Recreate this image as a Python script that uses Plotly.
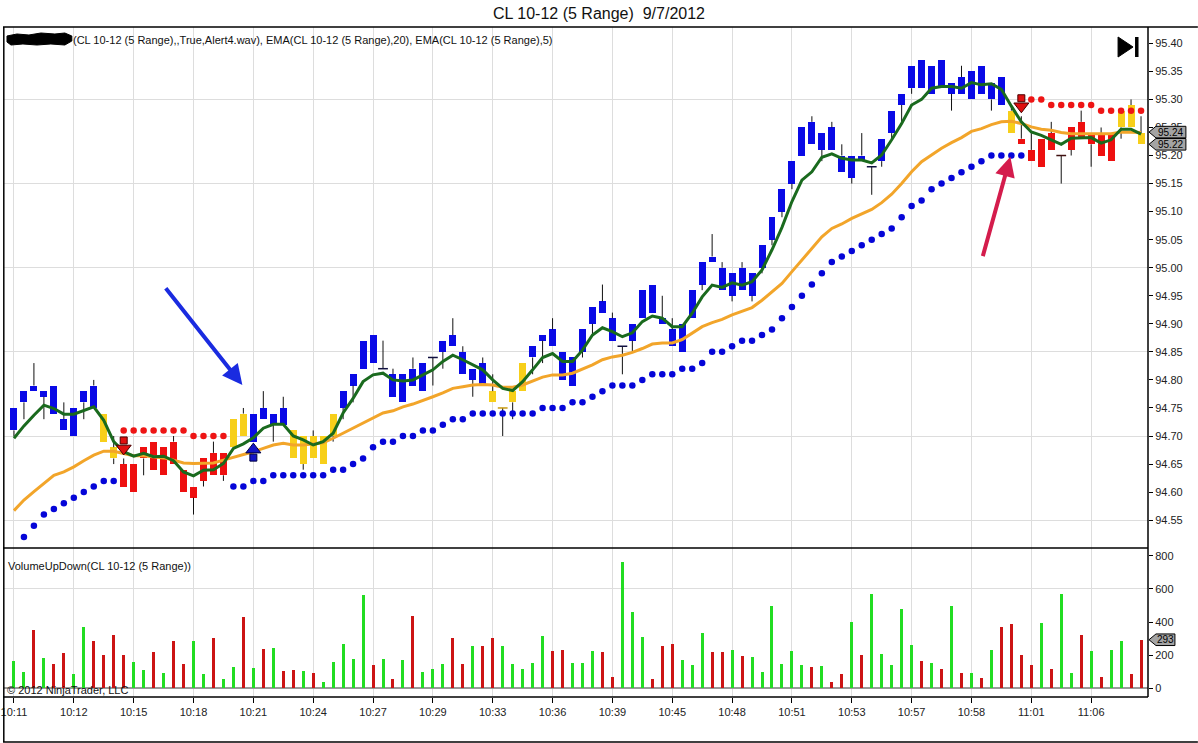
import plotly.graph_objects as go

# ---------------- data ----------------
bar_index = list(range(114))
time_labels = ["10:11", "10:12", "10:15", "10:18", "10:21", "10:24", "10:27", "10:29",
               "10:33", "10:36", "10:39", "10:45", "10:48", "10:51", "10:53", "10:57",
               "10:58", "11:01", "11:06"]
time_label_bars = [0, 6, 12, 18, 24, 30, 36, 42, 48, 54, 60, 66, 72, 78, 84, 90, 96, 102, 108]

price_ticks = [94.55, 94.60, 94.65, 94.70, 94.75, 94.80, 94.85, 94.90, 94.95, 95.00,
               95.05, 95.10, 95.15, 95.20, 95.25, 95.30, 95.35, 95.40]
price_grid = [94.55, 94.70, 94.85, 95.00, 95.15, 95.30]
volume_ticks = [0, 200, 400, 600, 800]
volume_grid = [600]

opens = [94.71, 94.76, 94.79, 94.77, 94.79, 94.73, 94.70, 94.76, 94.79, 94.74,
         94.68, 94.65, 94.60, 94.66, 94.69, 94.63, 94.69, 94.64, 94.59, 94.62,
         94.67, 94.63, 94.68, 94.74, 94.69, 94.75, 94.72, 94.75, 94.71, 94.65,
         94.70, 94.65, 94.70, 94.75, 94.79, 94.82, 94.88, 94.82, 94.81, 94.76,
         94.82, 94.78, 94.84, 94.85, 94.88, 94.85, 94.80, 94.83, 94.78, 94.75,
         94.76, 94.78, 94.84, 94.87, 94.89, 94.85, 94.79, 94.85, 94.90, 94.94,
         94.91, 94.86, 94.87, 94.91, 94.97, 94.91, 94.89, 94.85, 94.91, 94.97,
         95.02, 95.00, 94.95, 95.00, 94.95, 95.00, 95.05, 95.10, 95.15, 95.20,
         95.26, 95.21, 95.25, 95.20, 95.16, 95.20, 95.18, 95.19, 95.24, 95.29,
         95.32, 95.37, 95.31, 95.37, 95.31, 95.34, 95.30, 95.36, 95.30, 95.34,
         95.28, 95.23, 95.21, 95.18, 95.24, 95.20, 95.21, 95.26, 95.22, 95.24,
         95.19, 95.25, 95.29, 95.24]
highs = [94.75, 94.78, 94.83, 94.78, 94.79, 94.76, 94.75, 94.78, 94.80, 94.74,
         94.70, 94.66, 94.65, 94.68, 94.69, 94.68, 94.70, 94.64, 94.61, 94.66,
         94.69, 94.67, 94.73, 94.75, 94.74, 94.78, 94.74, 94.77, 94.71, 94.70,
         94.71, 94.70, 94.74, 94.78, 94.81, 94.87, 94.88, 94.87, 94.82, 94.81,
         94.84, 94.83, 94.84, 94.87, 94.91, 94.86, 94.82, 94.84, 94.81, 94.75,
         94.78, 94.83, 94.86, 94.88, 94.91, 94.85, 94.84, 94.89, 94.93, 94.97,
         94.92, 94.86, 94.90, 94.96, 94.97, 94.95, 94.91, 94.90, 94.96, 95.01,
         95.06, 95.01, 94.99, 95.01, 94.99, 95.04, 95.09, 95.14, 95.19, 95.25,
         95.27, 95.24, 95.26, 95.22, 95.20, 95.24, 95.18, 95.23, 95.28, 95.31,
         95.36, 95.37, 95.36, 95.37, 95.33, 95.36, 95.35, 95.36, 95.33, 95.34,
         95.29, 95.27, 95.24, 95.23, 95.26, 95.20, 95.25, 95.28, 95.24, 95.25,
         95.24, 95.28, 95.30, 95.27]
lows = [94.70, 94.73, 94.78, 94.73, 94.74, 94.71, 94.70, 94.73, 94.75, 94.69,
        94.65, 94.61, 94.60, 94.63, 94.64, 94.63, 94.65, 94.60, 94.56, 94.61,
        94.63, 94.62, 94.68, 94.70, 94.69, 94.73, 94.69, 94.72, 94.66, 94.64,
        94.66, 94.65, 94.69, 94.73, 94.76, 94.82, 94.83, 94.82, 94.77, 94.76,
        94.79, 94.78, 94.79, 94.82, 94.86, 94.81, 94.77, 94.79, 94.76, 94.70,
        94.73, 94.78, 94.81, 94.83, 94.86, 94.80, 94.79, 94.84, 94.88, 94.92,
        94.87, 94.81, 94.85, 94.91, 94.92, 94.90, 94.86, 94.85, 94.91, 94.96,
        95.01, 94.96, 94.94, 94.96, 94.94, 94.99, 95.04, 95.09, 95.14, 95.20,
        95.22, 95.19, 95.21, 95.17, 95.15, 95.19, 95.13, 95.18, 95.23, 95.26,
        95.31, 95.32, 95.31, 95.32, 95.28, 95.31, 95.30, 95.31, 95.28, 95.29,
        95.24, 95.22, 95.19, 95.18, 95.21, 95.15, 95.20, 95.23, 95.18, 95.20,
        95.19, 95.23, 95.25, 95.22]
closes = [94.75, 94.78, 94.78, 94.78, 94.74, 94.71, 94.75, 94.78, 94.75, 94.69,
          94.66, 94.61, 94.65, 94.68, 94.64, 94.68, 94.65, 94.60, 94.61, 94.66,
          94.63, 94.67, 94.73, 94.70, 94.74, 94.73, 94.74, 94.72, 94.66, 94.70,
          94.66, 94.70, 94.74, 94.78, 94.81, 94.87, 94.83, 94.82, 94.77, 94.81,
          94.79, 94.83, 94.84, 94.87, 94.86, 94.81, 94.82, 94.79, 94.76, 94.75,
          94.78, 94.83, 94.86, 94.88, 94.86, 94.80, 94.84, 94.89, 94.93, 94.92,
          94.87, 94.86, 94.90, 94.96, 94.92, 94.90, 94.86, 94.90, 94.96, 95.01,
          95.01, 94.96, 94.99, 94.96, 94.99, 95.04, 95.09, 95.14, 95.19, 95.25,
          95.22, 95.24, 95.21, 95.17, 95.20, 95.19, 95.18, 95.23, 95.28, 95.31,
          95.36, 95.32, 95.36, 95.32, 95.33, 95.31, 95.35, 95.31, 95.33, 95.29,
          95.24, 95.22, 95.19, 95.23, 95.21, 95.20, 95.25, 95.23, 95.24, 95.20,
          95.24, 95.28, 95.25, 95.22]
# B = blue, R = red, Y = yellow (indicator paint bars)
bar_paint = ("BBBBBBBBB" "YY" "RRRRRRRRRRR" "YY" "BBBB" "YYYYY" "BBBBBBBBBBBBBBB" "YYYY"
             "BBBBBBBBBBBBBBBBBBBBBBBBBBBBBBBBBBBBBBBBBBBBBBBB" "Y" "RRRRRRRRRR" "YYY")

ema20 = [94.567, 94.586, 94.601, 94.615, 94.630, 94.636, 94.645, 94.656, 94.666, 94.673,
         94.673, 94.669, 94.665, 94.665, 94.663, 94.661, 94.657, 94.652, 94.651, 94.651,
         94.652, 94.657, 94.662, 94.666, 94.672, 94.678, 94.684, 94.687, 94.684, 94.684,
         94.686, 94.688, 94.696, 94.705, 94.714, 94.724, 94.732, 94.741, 94.745, 94.752,
         94.757, 94.763, 94.770, 94.777, 94.785, 94.788, 94.791, 94.792, 94.791, 94.787,
         94.787, 94.791, 94.798, 94.805, 94.809, 94.809, 94.812, 94.819, 94.827, 94.836,
         94.841, 94.844, 94.849, 94.856, 94.864, 94.866, 94.866, 94.872, 94.883, 94.895,
         94.902, 94.908, 94.916, 94.922, 94.929, 94.942, 94.957, 94.972, 94.993, 95.014,
         95.035, 95.055, 95.070, 95.078, 95.088, 95.096, 95.104, 95.116, 95.131, 95.150,
         95.171, 95.189, 95.201, 95.213, 95.223, 95.232, 95.243, 95.248, 95.255, 95.260,
         95.261, 95.257, 95.251, 95.247, 95.245, 95.241, 95.239, 95.239, 95.239, 95.238,
         95.239, 95.242, 95.242, 95.241]
ema5 = [94.696, 94.718, 94.737, 94.755, 94.749, 94.739, 94.739, 94.746, 94.752, 94.728,
        94.690, 94.672, 94.664, 94.669, 94.663, 94.664, 94.656, 94.636, 94.629, 94.639,
        94.640, 94.651, 94.678, 94.686, 94.697, 94.714, 94.721, 94.721, 94.700, 94.693,
        94.684, 94.690, 94.705, 94.741, 94.767, 94.797, 94.809, 94.812, 94.800, 94.798,
        94.800, 94.809, 94.818, 94.833, 94.844, 94.836, 94.827, 94.818, 94.800, 94.785,
        94.781, 94.797, 94.818, 94.840, 94.847, 94.833, 94.833, 94.853, 94.880, 94.893,
        94.886, 94.877, 94.884, 94.904, 94.914, 94.910, 94.895, 94.895, 94.919, 94.948,
        94.969, 94.965, 94.973, 94.969, 94.975, 94.996, 95.032, 95.072, 95.118, 95.156,
        95.171, 95.197, 95.203, 95.195, 95.192, 95.192, 95.187, 95.201, 95.228, 95.257,
        95.290, 95.300, 95.320, 95.323, 95.323, 95.320, 95.330, 95.326, 95.328, 95.318,
        95.288, 95.260, 95.242, 95.236, 95.228, 95.220, 95.231, 95.232, 95.232, 95.222,
        95.228, 95.247, 95.247, 95.238]

trail_stop = [None, 94.52, 94.54, 94.56, 94.57, 94.58, 94.59, 94.60, 94.61, 94.62,
              94.62, 94.71, 94.71, 94.71, 94.71, 94.71, 94.71, 94.71, 94.70, 94.70,
              94.70, 94.70, 94.61, 94.61, 94.62, 94.62, 94.63, 94.63, 94.63, 94.63,
              94.63, 94.63, 94.64, 94.64, 94.65, 94.66, 94.68, 94.69, 94.69, 94.70,
              94.70, 94.71, 94.71, 94.72, 94.73, 94.73, 94.74, 94.74, 94.74, 94.74,
              94.74, 94.74, 94.74, 94.75, 94.75, 94.75, 94.76, 94.76, 94.77, 94.78,
              94.79, 94.79, 94.79, 94.80, 94.81, 94.81, 94.81, 94.82, 94.82, 94.83,
              94.85, 94.85, 94.86, 94.87, 94.87, 94.88, 94.89, 94.91, 94.93, 94.95,
              94.97, 94.99, 95.01, 95.02, 95.03, 95.04, 95.05, 95.06, 95.07, 95.09,
              95.11, 95.12, 95.14, 95.15, 95.16, 95.17, 95.18, 95.19, 95.20, 95.20,
              95.20, 95.20, 95.30, 95.30, 95.29, 95.29, 95.29, 95.29, 95.29, 95.28,
              95.28, 95.28, 95.28, 95.28]
# L = long stop (below), S = short stop (above), - = none
trail_side = ("-LLLLLLLLLL" "SSSSSSSSSSS"
              "LLLLLLLLLLLLLLLLLLLLLLLLLLLLLLLLLLLLLLLLLLLLLLLLLLLLLLLLLLLLLLLLLLLLLLLLLLLLLLLL"
              "SSSSSSSSSSSS")

sell_signal_bars = [11, 101]
buy_signal_bars = [24]

volume = [164, 96, 354, 182, 144, 210, 84, 372, 288, 198,
          324, 198, 156, 108, 222, 92, 284, 144, 288, 84,
          306, 54, 126, 432, 120, 240, 246, 102, 108, 102,
          90, 36, 156, 270, 174, 564, 138, 174, 54, 168,
          438, 96, 114, 144, 306, 144, 258, 258, 306, 258,
          144, 114, 150, 318, 228, 234, 150, 150, 228, 222,
          66, 762, 462, 312, 54, 258, 270, 168, 138, 336,
          222, 222, 234, 192, 186, 96, 498, 146, 224, 140,
          128, 134, 38, 86, 398, 200, 566, 206, 140, 476,
          260, 164, 152, 116, 494, 92, 92, 62, 230, 368,
          386, 200, 140, 392, 116, 572, 92, 320, 224, 68,
          230, 284, 86, 293]

# hand-drawn callout arrows: (tail bar, tail price, tip bar, tip price, colour)
callouts = [(15.1, 94.966, 22.9, 94.791, "#1a2be0"),
            (97.1, 95.018, 99.9, 95.198, "#d41c4c")]

# ---------------- geometry / style ----------------
W, H = 1198, 743
PL, PR, PT, PB = 1, 1148, 27, 697      # plot area in pixels
SPLIT = 548                            # border between price and volume panes
PRICE_RANGE = [94.5004, 95.4291]
VOL_RANGE = [-52.5, 846.5]
X_RANGE = [-1.0, 113.7]
FONT = "Arial, Liberation Sans, sans-serif"


def px(x):
    return (x - PL) / (PR - PL)


def py(y):
    return (PB - y) / (PB - PT)


def price_to_pix(v):
    frac = (v - PRICE_RANGE[0]) / (PRICE_RANGE[1] - PRICE_RANGE[0])
    return SPLIT - frac * (SPLIT - PT)


def vol_to_pix(v):
    frac = (v - VOL_RANGE[0]) / (VOL_RANGE[1] - VOL_RANGE[0])
    return PB - frac * (PB - SPLIT)


paint_colors = {"B": "#0a0ae6", "R": "#ee1010", "Y": "#f7cf1a"}
doji_colors = {"B": "#101040", "R": "#401010", "Y": "#c89a10"}

fig = go.Figure()

# wicks (split so they do not cross the bodies)
wx, wy = [], []
body_x, body_base, body_h, body_col = [], [], [], []
doji_x, doji_y, doji_c = [], [], []
for i in bar_index:
    top = max(opens[i], closes[i])
    bot = min(opens[i], closes[i])
    if highs[i] > top:
        wx += [i, i, None]
        wy += [top, highs[i], None]
    if lows[i] < bot:
        wx += [i, i, None]
        wy += [bot, lows[i], None]
    if top > bot:
        body_x.append(i)
        body_base.append(bot)
        body_h.append(top - bot)
        body_col.append(paint_colors[bar_paint[i]])
    else:
        doji_x.append(i)
        doji_y.append(top)
        doji_c.append(doji_colors[bar_paint[i]])

fig.add_trace(go.Scatter(x=wx, y=wy, mode="lines", line=dict(color="#111111", width=1),
                         hoverinfo="skip", showlegend=False, xaxis="x", yaxis="y"))
fig.add_trace(go.Bar(x=body_x, y=body_h, base=body_base, width=0.7,
                     marker=dict(color=body_col, line=dict(width=0)),
                     showlegend=False, xaxis="x", yaxis="y"))
fig.add_trace(go.Scatter(x=doji_x, y=doji_y, mode="markers",
                         marker=dict(symbol="line-ew", size=7,
                                     line=dict(color=doji_c, width=1.5)),
                         showlegend=False, xaxis="x", yaxis="y"))

# EMAs
fig.add_trace(go.Scatter(x=bar_index, y=ema20, mode="lines",
                         line=dict(color="#f2a52a", width=3), showlegend=False,
                         xaxis="x", yaxis="y"))
fig.add_trace(go.Scatter(x=bar_index, y=ema5, mode="lines",
                         line=dict(color="#1a6a1e", width=3), showlegend=False,
                         xaxis="x", yaxis="y"))

# trailing stop dots
long_x = [i for i in bar_index if trail_side[i] == "L"]
short_x = [i for i in bar_index if trail_side[i] == "S"]
fig.add_trace(go.Scatter(x=long_x, y=[trail_stop[i] for i in long_x], mode="markers",
                         marker=dict(color="#0505d8", size=6.5), showlegend=False,
                         xaxis="x", yaxis="y"))
fig.add_trace(go.Scatter(x=short_x, y=[trail_stop[i] for i in short_x], mode="markers",
                         marker=dict(color="#ee1515", size=6.5), showlegend=False,
                         xaxis="x", yaxis="y"))

# signal arrows (shaft + head)
TICKPX = (PRICE_RANGE[1] - PRICE_RANGE[0]) / (SPLIT - PT)   # price per pixel
sell_tip = [highs[i] + 6 * TICKPX for i in sell_signal_bars]
buy_tip = [lows[i] - 4 * TICKPX for i in buy_signal_bars]
fig.add_trace(go.Scatter(x=sell_signal_bars, y=[t + 12 * TICKPX for t in sell_tip], mode="markers",
                         marker=dict(symbol="square", size=7, color="#e01010",
                                     line=dict(color="#4a0000", width=1)),
                         showlegend=False, xaxis="x", yaxis="y"))
fig.add_trace(go.Scatter(x=sell_signal_bars, y=[t + 4 * TICKPX for t in sell_tip], mode="markers",
                         marker=dict(symbol="triangle-down", size=13, color="#e01010",
                                     line=dict(color="#4a0000", width=1)),
                         showlegend=False, xaxis="x", yaxis="y"))
fig.add_trace(go.Scatter(x=buy_signal_bars, y=[t - 12 * TICKPX for t in buy_tip], mode="markers",
                         marker=dict(symbol="square", size=7, color="#1414c8",
                                     line=dict(color="#000040", width=1)),
                         showlegend=False, xaxis="x", yaxis="y"))
fig.add_trace(go.Scatter(x=buy_signal_bars, y=[t - 4 * TICKPX for t in buy_tip], mode="markers",
                         marker=dict(symbol="triangle-up", size=13, color="#1414c8",
                                     line=dict(color="#000040", width=1)),
                         showlegend=False, xaxis="x", yaxis="y"))

# volume
vol_colors = ["#22dd22" if closes[i] >= opens[i] else "#cc1414" for i in bar_index]
fig.add_trace(go.Bar(x=bar_index, y=volume, width=0.3,
                     marker=dict(color=vol_colors, line=dict(width=0)),
                     showlegend=False, xaxis="x", yaxis="y2"))

# ---------------- layout ----------------
tick_font = dict(family=FONT, size=11, color="#222222")
fig.update_layout(
    width=W, height=H,
    margin=dict(l=PL, r=W - PR, t=PT, b=H - PB, pad=0),
    paper_bgcolor="white", plot_bgcolor="white",
    barmode="overlay", bargap=0,
    title=dict(text="CL 10-12 (5 Range) \u00a09/7/2012", x=0.5, xref="container",
               y=1 - 13 / H, yref="container", xanchor="center", yanchor="middle",
               font=dict(family=FONT, size=16, color="#111111")),
    xaxis=dict(range=X_RANGE, anchor="y2", tickmode="array", tickvals=time_label_bars,
               ticktext=time_labels, ticks="outside", ticklen=5, tickcolor="#000000",
               tickwidth=1, showgrid=True, gridcolor="#dddddd", gridwidth=1,
               zeroline=False, showline=False, tickfont=tick_font,
               ticklabeloverflow="allow"),
    yaxis=dict(domain=[py(SPLIT), 1], range=PRICE_RANGE, side="right", anchor="x",
               tickmode="array", tickvals=price_ticks,
               ticktext=["%.2f" % v for v in price_ticks],
               ticks="outside", ticklen=4, tickcolor="#000000", showgrid=False,
               zeroline=False, showline=False, tickfont=tick_font,
               minor=dict(tickmode="array", tickvals=price_grid, showgrid=True,
                          gridcolor="#dddddd", gridwidth=1, ticks="")),
    yaxis2=dict(domain=[0, py(SPLIT)], range=VOL_RANGE, side="right", anchor="x",
                tickmode="array", tickvals=volume_ticks,
                ticktext=[str(v) for v in volume_ticks],
                ticks="outside", ticklen=4, tickcolor="#000000", showgrid=False,
                zeroline=True, zerolinecolor="#9a9a9a", zerolinewidth=1.5,
                showline=False, tickfont=tick_font,
                minor=dict(tickmode="array", tickvals=volume_grid, showgrid=True,
                           gridcolor="#dddddd", gridwidth=1, ticks="")),
)

shapes = []
line_k = dict(color="#000000", width=1.5)
# frame lines
shapes.append(dict(type="line", xref="paper", yref="paper", x0=px(0), x1=px(W), y0=py(PT), y1=py(PT), line=line_k))
shapes.append(dict(type="line", xref="paper", yref="paper", x0=px(0), x1=px(PR), y0=py(SPLIT), y1=py(SPLIT), line=line_k))
shapes.append(dict(type="line", xref="paper", yref="paper", x0=px(0), x1=px(PR), y0=py(PB), y1=py(PB), line=line_k))
shapes.append(dict(type="line", xref="paper", yref="paper", x0=px(0), x1=px(W), y0=py(742), y1=py(742), line=line_k))
shapes.append(dict(type="line", xref="paper", yref="paper", x0=px(0.8), x1=px(0.8), y0=py(PT), y1=py(742), line=line_k))
shapes.append(dict(type="line", xref="paper", yref="paper", x0=px(PR), x1=px(PR), y0=py(PT), y1=py(PB), line=line_k))

# redaction scribble over indicator name
blob = [(4, 36), (14, 34), (26, 35), (38, 33), (52, 34), (62, 33), (69, 36), (69, 41),
        (62, 45), (48, 44), (34, 45), (20, 44), (8, 45), (4, 42)]
path = "M " + " L ".join("%.5f %.5f" % (px(a), py(b)) for a, b in blob) + " Z"
shapes.append(dict(type="path", xref="paper", yref="paper", path=path,
                   fillcolor="#000000", line=dict(color="#000000", width=1)))

# "go to end" icon
tri = [(1118, 37), (1118, 57), (1133, 47)]
path = "M " + " L ".join("%.5f %.5f" % (px(a), py(b)) for a, b in tri) + " Z"
shapes.append(dict(type="path", xref="paper", yref="paper", path=path,
                   fillcolor="#000000", line=dict(color="#000000", width=1)))
shapes.append(dict(type="rect", xref="paper", yref="paper", x0=px(1135), x1=px(1138.5),
                   y0=py(37), y1=py(57), fillcolor="#000000", line=dict(width=0)))


def value_marker(ycenter_pix, right_px, text, fsize=10):
    half = 5.8
    pts = [(PR + 1, ycenter_pix), (PR + 8, ycenter_pix - half),
           (right_px, ycenter_pix - half), (right_px, ycenter_pix + half),
           (PR + 8, ycenter_pix + half)]
    p = "M " + " L ".join("%.5f %.5f" % (px(a), py(b)) for a, b in pts) + " Z"
    shapes.append(dict(type="path", xref="paper", yref="paper", path=p,
                       fillcolor="#a4a4a4", line=dict(color="#000000", width=1)))
    return dict(xref="paper", yref="paper", x=px((PR + 8 + right_px) / 2), y=py(ycenter_pix),
                text=text, showarrow=False, xanchor="center", yanchor="middle",
                font=dict(family=FONT, size=fsize, color="#000000"))


annotations = []
lower_pix = price_to_pix(closes[-1])
upper_pix = min(price_to_pix(round(ema5[-1], 2)), lower_pix - 12.2)
annotations.append(value_marker(upper_pix, 1186, "%.2f" % ema5[-1]))
annotations.append(value_marker(lower_pix, 1186, "%.2f" % closes[-1]))
annotations.append(value_marker(vol_to_pix(volume[-1]), 1175, str(volume[-1])))

annotations.append(dict(xref="paper", yref="paper", x=px(68), y=py(39.5), xanchor="left",
                        yanchor="middle", showarrow=False,
                        text="(CL 10-12 (5 Range),,True,Alert4.wav), EMA(CL 10-12 (5 Range),20), EMA(CL 10-12 (5 Range),5)",
                        font=dict(family=FONT, size=11, color="#111111")))
annotations.append(dict(xref="paper", yref="paper", x=px(3), y=py(566), xanchor="left",
                        yanchor="middle", showarrow=False,
                        text="VolumeUpDown(CL 10-12 (5 Range))",
                        font=dict(family=FONT, size=11, color="#111111")))
annotations.append(dict(xref="paper", yref="paper", x=px(2), y=py(690), xanchor="left",
                        yanchor="middle", showarrow=False,
                        text="\u00a9 2012 NinjaTrader, LLC",
                        font=dict(family=FONT, size=11, color="#111111")))

for tx, ty, hx, hy, col in callouts:
    annotations.append(dict(x=hx, y=hy, xref="x", yref="y", ax=tx, ay=ty, axref="x", ayref="y",
                            showarrow=True, arrowhead=2, arrowsize=1, arrowwidth=4,
                            arrowcolor=col, text=""))

fig.update_layout(shapes=shapes, annotations=annotations)

fig.write_html("out.html", config={"displayModeBar": False},
               post_script="document.body.style.margin='0';")
